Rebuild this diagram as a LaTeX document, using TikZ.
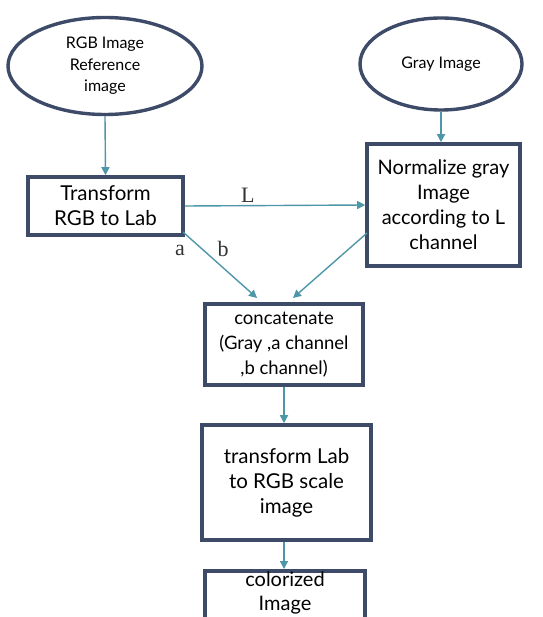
\documentclass[tikz,border=0pt]{standalone}
\usepackage{fontspec}
\setmainfont{Lato}
\newfontfamily\serifl{Liberation Serif}
\usetikzlibrary{shapes.geometric,arrows.meta}
\definecolor{boxc}{HTML}{3D4A68}
\definecolor{arrc}{HTML}{4E97A8}
\tikzset{
  every node/.style={inner sep=0pt},
  ell/.style={ellipse, draw=boxc, line width=3.4pt, align=center, font=\fontsize{16}{21.5}\selectfont},
  boxn/.style={rectangle, draw=boxc, line width=3.6pt, align=center, font=\fontsize{20.5}{25}\selectfont},
  arr/.style={draw=arrc, line width=1.4pt, -{Triangle[length=8pt,width=8pt]}},
  lab/.style={font=\serifl\fontsize{22}{24}\selectfont, text=black!80}
}
\begin{document}
\begin{tikzpicture}[x=1pt,y=-1pt]
\useasboundingbox (0,0) rectangle (542,617);
\begin{scope}
\clip (0,0) rectangle (542,617);
\node[ell, minimum width=194, minimum height=97] (rgb) at (105,66) {RGB Image\\Reference\\image};
\node[ell, minimum width=162, minimum height=92] (gray) at (441,64) {Gray Image};
\node[boxn, minimum width=155, minimum height=58] (tr) at (105.5,206) {Transform\\RGB to Lab};
\node[boxn, minimum width=153, minimum height=122, font=\fontsize{20}{25}\selectfont] (norm) at (443.5,205) {Normalize gray\\Image\\according to L\\channel};
\node[boxn, minimum width=158, minimum height=81, font=\fontsize{18.5}{25}\selectfont] (cat) at (284,344.5) {concatenate\\(Gray ,a channel\\,b channel)};
\node[boxn, minimum width=169, minimum height=115] (lab2rgb) at (286.5,482.5) {transform Lab\\to RGB scale\\image};
\node[boxn, minimum width=160, minimum height=60, anchor=north] (col) at (285,569) {};
\node[align=center, font=\fontsize{20}{23.5}\selectfont] (coltext) at (285,593) {colorized\\Image};

\draw[arr] (rgb.south) -- (tr.north);
\draw[arr] (gray.south) -- (gray.south |- norm.north);
\draw[arr] (tr.east) -- node[lab, above=2pt, pos=0.35] (L) {L} (norm.west);
\coordinate (trc) at (183,232);
\coordinate (catin1) at (257,298);
\coordinate (normc) at (367,233);
\coordinate (catin2) at (293,298);
\draw[arr] (trc) -- (catin1);
\draw[arr] (normc) -- (catin2);
\node[lab] (a) at (180,250) {a};
\node[lab] (b) at (223,249) {b};
\draw[arr] (cat.south) -- (cat.south |- lab2rgb.north);
\draw[arr] (cat.south |- lab2rgb.south) -- (cat.south |- col.north);
\end{scope}
\end{tikzpicture}
\end{document}
